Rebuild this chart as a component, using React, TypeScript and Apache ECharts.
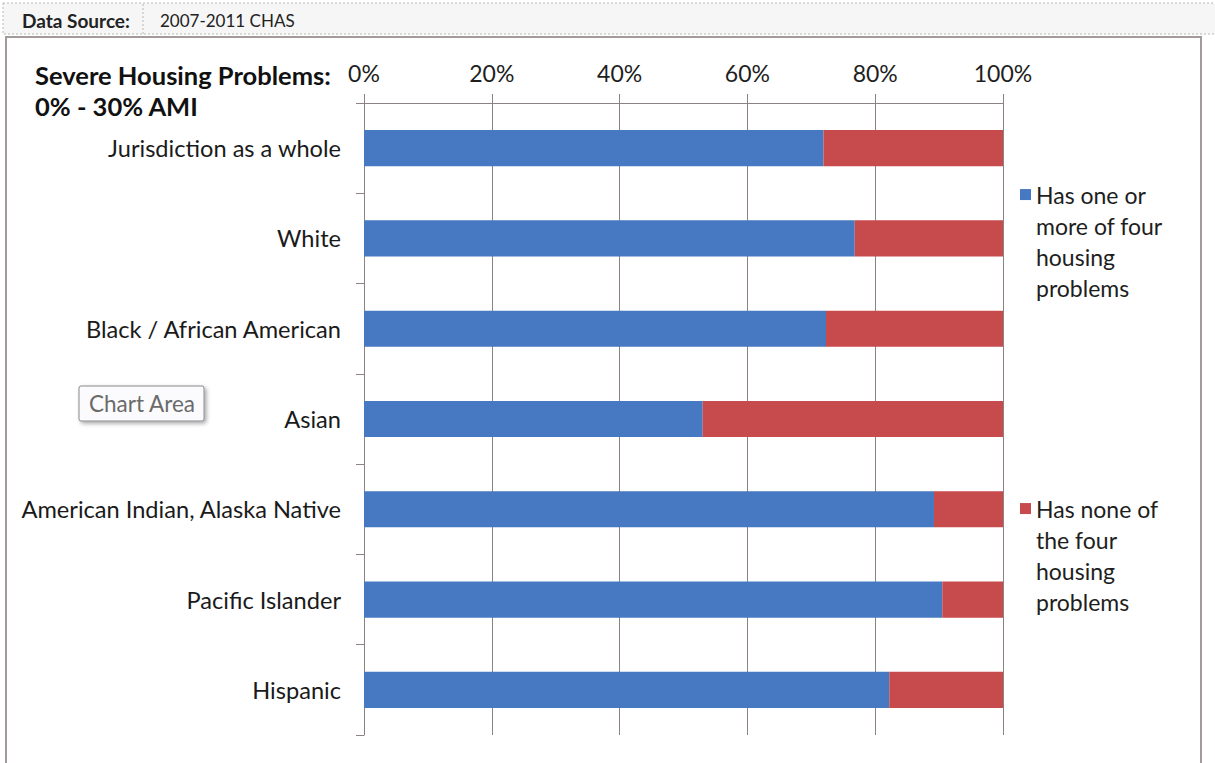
import React, { useEffect, useRef } from 'react';
import * as echarts from 'echarts';

const categories = [
  'Jurisdiction as a whole',
  'White',
  'Black / African American',
  'Asian',
  'American Indian, Alaska Native',
  'Pacific Islander',
  'Hispanic',
];
const hasProblems = [71.9, 76.8, 72.3, 53.0, 89.2, 90.5, 82.2];
const noProblems = [28.1, 23.2, 27.7, 47.0, 10.8, 9.5, 17.8];
const seriesNames = [
  'Has one or more of four housing problems',
  'Has none of the four housing problems',
];
const legendLines = [
  ['Has one or', 'more of four', 'housing', 'problems'],
  ['Has none of', 'the four', 'housing', 'problems'],
];
const titleLines = ['Severe Housing Problems:', '0% - 30% AMI'];
const dataSourceLabel = 'Data Source:';
const dataSourceValue = '2007-2011 CHAS';
const xMin = 0;
const xMax = 100;
const xInterval = 20;

const FONT = 'Lato, "Noto Sans", sans-serif';
const GRID_COLOR = '#8d8282';

export default function App() {
  const ref = useRef<HTMLDivElement>(null);
  useEffect(() => {
    if (!ref.current) return;
    const chart = echarts.init(ref.current, undefined, { renderer: 'svg' });
    const legendFor = (i: number, top: number) => ({
      show: true,
      orient: 'vertical',
      left: 1020,
      top,
      padding: 0,
      data: [seriesNames[i]],
      icon: 'rect',
      itemWidth: 11,
      itemHeight: 11,
      selectedMode: false,
      formatter: () => '\n\n\n' + legendLines[i].join('\n'),
      textStyle: {
        fontFamily: FONT,
        fontSize: 23,
        lineHeight: 31.3,
        color: '#1e1e1e',
      },
    });
    chart.setOption({
      animation: false,
      backgroundColor: '#ffffff',
      textStyle: { fontFamily: FONT },
      grid: { left: 364, right: 212, top: 103, bottom: 28, containLabel: false },
      xAxis: {
        type: 'value',
        position: 'top',
        min: xMin,
        max: xMax,
        interval: xInterval,
        axisLabel: {
          formatter: '{value}%',
          fontSize: 23,
          color: '#1e1e1e',
          fontFamily: FONT,
          margin: 19,
        },
        axisLine: { show: true, lineStyle: { color: GRID_COLOR, width: 1 } },
        axisTick: { show: true, length: 9, lineStyle: { color: GRID_COLOR } },
        splitLine: { show: true, lineStyle: { color: GRID_COLOR, width: 1 } },
      },
      yAxis: {
        type: 'category',
        inverse: true,
        data: categories,
        axisLine: { show: true, lineStyle: { color: GRID_COLOR, width: 1 } },
        axisTick: { show: true, length: 8, lineStyle: { color: GRID_COLOR } },
        axisLabel: { fontSize: 23.6, color: '#1a1a1a', fontFamily: FONT, margin: 23 },
      },
      legend: [legendFor(0, 85), legendFor(1, 399)],
      series: [
        {
          name: seriesNames[0],
          type: 'bar',
          stack: 'total',
          barWidth: '40%',
          data: hasProblems,
          itemStyle: { color: '#4679c1' },
        },
        {
          name: seriesNames[1],
          type: 'bar',
          stack: 'total',
          barWidth: '40%',
          data: noProblems,
          itemStyle: { color: '#c74a4c' },
        },
      ],
      graphic: [
        {
          type: 'rect',
          z: -1,
          shape: { x: 3, y: 3, width: 1220, height: 31 },
          style: { fill: '#f6f6f6', stroke: '#b8b8b8', lineWidth: 1, lineDash: [2, 2] },
        },
        {
          type: 'line',
          shape: { x1: 143, y1: 4, x2: 143, y2: 34 },
          style: { stroke: '#b8b8b8', lineWidth: 1, lineDash: [2, 2] },
        },
        {
          type: 'text',
          x: 22,
          y: 20,
          style: {
            text: dataSourceLabel,
            font: `bold 19px ${FONT}`,
            fill: '#222',
            verticalAlign: 'middle',
          },
        },
        {
          type: 'text',
          x: 160,
          y: 20,
          style: {
            text: dataSourceValue,
            font: `17px ${FONT}`,
            fill: '#222',
            verticalAlign: 'middle',
          },
        },
        {
          type: 'rect',
          z: -1,
          shape: { x: 6, y: 37, width: 1195, height: 740 },
          style: { fill: 'none', stroke: '#a39a9a', lineWidth: 2 },
        },
        {
          type: 'text',
          x: 35,
          y: 75,
          style: {
            text: titleLines[0],
            font: `bold 25.5px ${FONT}`,
            fill: '#111',
            verticalAlign: 'middle',
          },
        },
        {
          type: 'text',
          x: 35,
          y: 106,
          style: {
            text: titleLines[1],
            font: `bold 25.5px ${FONT}`,
            fill: '#111',
            verticalAlign: 'middle',
          },
        },
        {
          type: 'rect',
          shape: { x: 79, y: 386, width: 125, height: 35, r: 2 },
          style: {
            fill: '#fbfbfd',
            stroke: '#8a8a8a',
            lineWidth: 1,
            shadowBlur: 4,
            shadowOffsetX: 2,
            shadowOffsetY: 2,
            shadowColor: 'rgba(0,0,0,0.35)',
          },
        },
        {
          type: 'text',
          x: 142,
          y: 403,
          style: {
            text: 'Chart Area',
            font: `22.5px ${FONT}`,
            fill: '#6a6a6a',
            align: 'center',
            verticalAlign: 'middle',
          },
        },
      ],
    });
    return () => chart.dispose();
  }, []);
  return (
    <div
      ref={ref}
      style={{ position: 'fixed', left: 0, top: 0, width: 1215, height: 763 }}
    />
  );
}
